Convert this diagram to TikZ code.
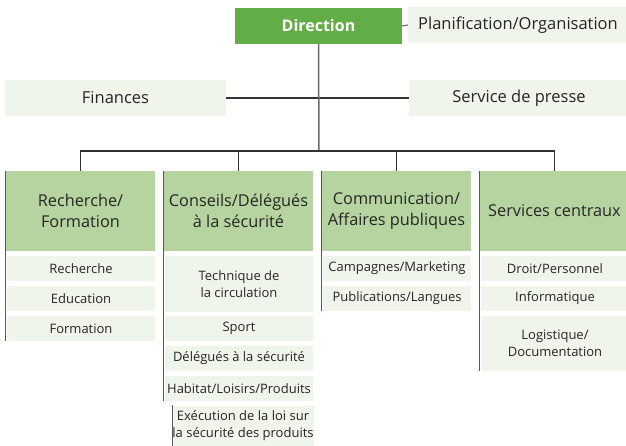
\documentclass[tikz,border=0pt]{standalone}
\usepackage{fontspec}
\setmainfont{Open Sans}
\definecolor{dirgreen}{HTML}{62AD46}
\definecolor{headgreen}{HTML}{B5D4A0}
\definecolor{lightgreen}{HTML}{EFF5EA}
\definecolor{trunkgray}{HTML}{6A6A6A}
\definecolor{linedark}{HTML}{333333}
\begin{document}
\begin{tikzpicture}[x=1pt,y=-1pt,
  box/.style={inner sep=0pt, align=center, text=black!85},
  dirbox/.style={box, fill=dirgreen, text=white, font=\fontsize{16}{19}\selectfont\bfseries},
  topbox/.style={box, fill=lightgreen, font=\fontsize{16.5}{19}\selectfont},
  headbox/.style={box, fill=headgreen, minimum width=149pt, minimum height=80pt, font=\fontsize{16.3}{21}\selectfont},
  subbox/.style={box, fill=lightgreen, minimum width=148pt, font=\fontsize{13}{17}\selectfont},
  conn/.style={draw=linedark, line width=1.1pt},
  trunk/.style={draw=trunkgray, line width=1.5pt},
  side/.style={draw=black!65, line width=1.3pt}
]
\useasboundingbox (0,0) rectangle (626,446);
% top level
\node[dirbox, minimum width=167pt, minimum height=36pt] (dir) at (318.5,26) {Direction};
\node[topbox, minimum width=220pt, minimum height=36pt] (plan) at (518,25) {Planification/Organisation};
\node[topbox, minimum width=221pt, minimum height=36pt] (fin) at (115.5,98) {Finances};
\node[topbox, minimum width=220pt, minimum height=36pt] (press) at (519,98) {Service de presse};
\coordinate (bus) at (319,151);
% headers
\node[headbox] (h1) at (80.5,211) {Recherche/\\Formation};
\node[headbox] (h2) at (238.5,211) {Conseils/Délégués\\à la sécurité};
\node[headbox] (h3) at (396.5,211) {Communication/\\Affaires publiques};
\node[headbox] (h4) at (554.5,211) {Services centraux};
% column 1
\node[subbox, minimum height=25pt] (c1a) at (81,268.5) {Recherche};
\node[subbox, minimum height=25pt] (c1b) at (81,298.5) {Education};
\node[subbox, minimum height=25pt] (c1c) at (81,328.5) {Formation};
% column 2
\node[subbox, minimum height=56pt] (c2a) at (239,284) {Technique de\\la circulation};
\node[subbox, minimum height=25pt] (c2b) at (239,328.5) {Sport};
\node[subbox, minimum height=25pt] (c2c) at (239,358.5) {Délégués à la sécurité};
\node[subbox, minimum height=25pt] (c2d) at (239,388.5) {Habitat/Loisirs/Produits};
\node[subbox, minimum width=140pt, minimum height=41pt] (c2e) at (243,426) {Exécution de la loi sur\\la sécurité des produits};
% column 3
\node[subbox, minimum height=25pt] (c3a) at (397,268.5) {Campagnes/Marketing};
\node[subbox, minimum height=25pt] (c3b) at (397,298.5) {Publications/Langues};
% column 4
\node[subbox, minimum height=25pt] (c4a) at (555,268.5) {Droit/Personnel};
\node[subbox, minimum height=25pt] (c4b) at (555,298.5) {Informatique};
\node[subbox, minimum height=55pt] (c4c) at (555,343.5) {Logistique/\\Documentation};
% connectors
\draw[conn, draw=black!60] (dir.east) -- (plan.west);
\draw[conn] (fin.east) -- (press.west);
\draw[trunk] (dir.south) -- (bus);
\draw[conn] (h1.north) -- (h1.north |- bus) -- (h4.north |- bus) -- (h4.north);
\draw[conn] (h2.north) -- (h2.north |- bus);
\draw[conn] (h3.north) -- (h3.north |- bus);
% side lines
\draw[side] (h1.north west) -- (h1.north west |- c1c.south);
\draw[side] (h2.north west) -- (h2.north west |- c2d.south);
\draw[side] (c2e.north west) -- (c2e.south west);
\draw[side] (h3.north west) -- (h3.north west |- c3b.south);
\draw[side] (h4.north west) -- (h4.north west |- c4c.south);
\end{tikzpicture}
\end{document}
